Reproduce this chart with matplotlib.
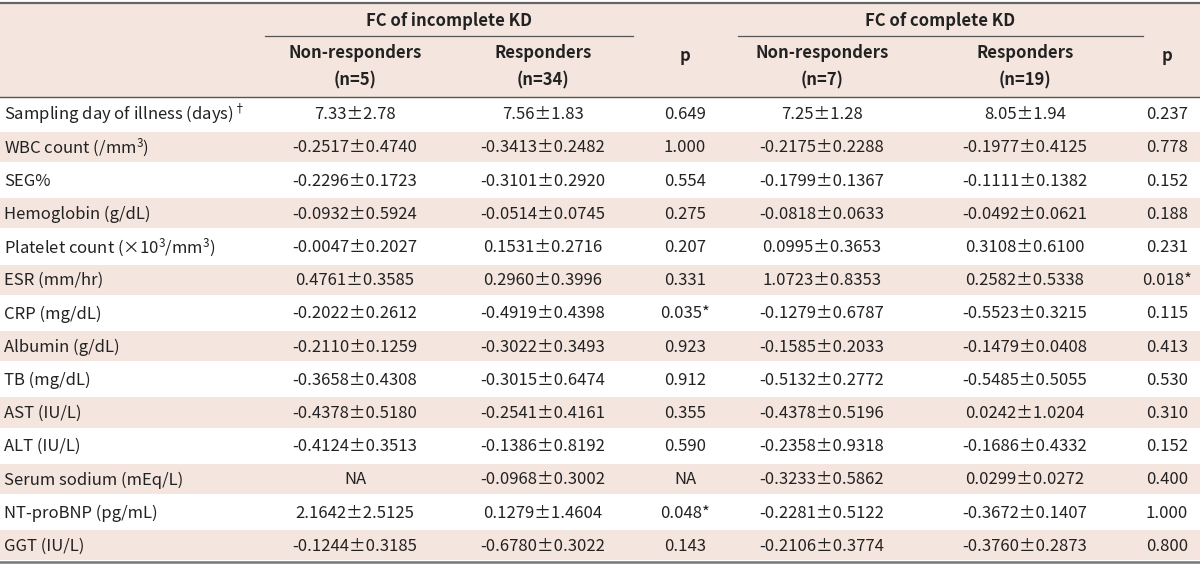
import matplotlib
matplotlib.use('Agg')
import matplotlib.pyplot as plt
from matplotlib.patches import Rectangle

plt.rcParams['font.family'] = ['Noto Sans CJK KR', 'DejaVu Sans']
plt.rcParams['mathtext.fontset'] = 'custom'
plt.rcParams['mathtext.rm'] = 'Noto Sans CJK KR'
plt.rcParams['mathtext.default'] = 'rm'

# ---------------- data ----------------
labels = ['Sampling day of illness (days$)^{\u2020}$', 'WBC count (/mm$^{3}$)', 'SEG%',
          'Hemoglobin (g/dL)', 'Platelet count (\u00d710$^{3}$/mm$^{3}$)', 'ESR (mm/hr)',
          'CRP (mg/dL)', 'Albumin (g/dL)', 'TB (mg/dL)', 'AST (IU/L)', 'ALT (IU/L)',
          'Serum sodium (mEq/L)', 'NT-proBNP (pg/mL)', 'GGT (IU/L)']

nonresp_inc = ['7.33\u00b12.78', '-0.2517\u00b10.4740', '-0.2296\u00b10.1723', '-0.0932\u00b10.5924',
               '-0.0047\u00b10.2027', '0.4761\u00b10.3585', '-0.2022\u00b10.2612', '-0.2110\u00b10.1259',
               '-0.3658\u00b10.4308', '-0.4378\u00b10.5180', '-0.4124\u00b10.3513', 'NA',
               '2.1642\u00b12.5125', '-0.1244\u00b10.3185']
resp_inc = ['7.56\u00b11.83', '-0.3413\u00b10.2482', '-0.3101\u00b10.2920', '-0.0514\u00b10.0745',
            '0.1531\u00b10.2716', '0.2960\u00b10.3996', '-0.4919\u00b10.4398', '-0.3022\u00b10.3493',
            '-0.3015\u00b10.6474', '-0.2541\u00b10.4161', '-0.1386\u00b10.8192', '-0.0968\u00b10.3002',
            '0.1279\u00b11.4604', '-0.6780\u00b10.3022']
p_inc = ['0.649', '1.000', '0.554', '0.275', '0.207', '0.331', '0.035*', '0.923',
         '0.912', '0.355', '0.590', 'NA', '0.048*', '0.143']

nonresp_comp = ['7.25\u00b11.28', '-0.2175\u00b10.2288', '-0.1799\u00b10.1367', '-0.0818\u00b10.0633',
                '0.0995\u00b10.3653', '1.0723\u00b10.8353', '-0.1279\u00b10.6787', '-0.1585\u00b10.2033',
                '-0.5132\u00b10.2772', '-0.4378\u00b10.5196', '-0.2358\u00b10.9318', '-0.3233\u00b10.5862',
                '-0.2281\u00b10.5122', '-0.2106\u00b10.3774']
resp_comp = ['8.05\u00b11.94', '-0.1977\u00b10.4125', '-0.1111\u00b10.1382', '-0.0492\u00b10.0621',
             '0.3108\u00b10.6100', '0.2582\u00b10.5338', '-0.5523\u00b10.3215', '-0.1479\u00b10.0408',
             '-0.5485\u00b10.5055', '0.0242\u00b11.0204', '-0.1686\u00b10.4332', '0.0299\u00b10.0272',
             '-0.3672\u00b10.1407', '-0.3760\u00b10.2873']
p_comp = ['0.237', '0.778', '0.152', '0.188', '0.231', '0.018*', '0.115', '0.413',
          '0.530', '0.310', '0.152', '0.400', '1.000', '0.800']

groups = ['FC of incomplete KD', 'FC of complete KD']
sub_heads = [('Non-responders', '(n=5)'), ('Responders', '(n=34)'),
             ('Non-responders', '(n=7)'), ('Responders', '(n=19)')]

# ---------------- layout (pixel coords) ----------------
W, H = 1200, 565
pink = '#f5e5df'
txt = '#222222'
fs = 12

col_x = [355, 543, 685, 822, 1025, 1167]
columns = [nonresp_inc, resp_inc, p_inc, nonresp_comp, resp_comp, p_comp]

fig = plt.figure(figsize=(W / 100, H / 100), dpi=100)
ax = fig.add_axes([0, 0, 1, 1])
ax.set_xlim(0, W)
ax.set_ylim(H, 0)
ax.axis('off')

top, head_bot, bottom = 3, 97, 562
row_h = (bottom - head_bot) / len(labels)

# header background
ax.add_patch(Rectangle((0, top), W, head_bot - top, color=pink, lw=0, zorder=0))

# striped body rows
for i in range(len(labels)):
    y0 = head_bot + i * row_h
    if i % 2 == 1:
        ax.add_patch(Rectangle((0, y0 + 1.5), W, row_h - 3, color=pink, lw=0, zorder=0))
    yc = y0 + row_h / 2 + 1
    ax.text(4, yc, labels[i], ha='left', va='center', fontsize=fs, color=txt)
    for cx, col in zip(col_x, columns):
        ax.text(cx, yc, col[i], ha='center', va='center', fontsize=fs, color=txt)

# rules
ax.plot([0, W], [top, top], color='#666666', lw=1.6)
ax.plot([0, W], [head_bot, head_bot], color='#555555', lw=1.0)
ax.plot([0, W], [bottom, bottom], color='#777777', lw=1.8)
ax.plot([265, 633], [36, 36], color='#555555', lw=0.9)
ax.plot([738, 1143], [36, 36], color='#555555', lw=0.9)

# header text
ax.text((265 + 633) / 2, 21, groups[0], ha='center', va='center', fontsize=fs,
        fontweight='bold', color=txt)
ax.text((738 + 1143) / 2, 21, groups[1], ha='center', va='center', fontsize=fs,
        fontweight='bold', color=txt)
for cx, (l1, l2) in zip([col_x[0], col_x[1], col_x[3], col_x[4]], sub_heads):
    ax.text(cx, 53, l1, ha='center', va='center', fontsize=fs, fontweight='bold', color=txt)
    ax.text(cx, 80, l2, ha='center', va='center', fontsize=fs, fontweight='bold', color=txt)
for cx in (col_x[2], col_x[5]):
    ax.text(cx, 56, 'p', ha='center', va='center', fontsize=fs, fontweight='bold', color=txt)

fig.savefig('out.png', dpi=100, facecolor='white')
